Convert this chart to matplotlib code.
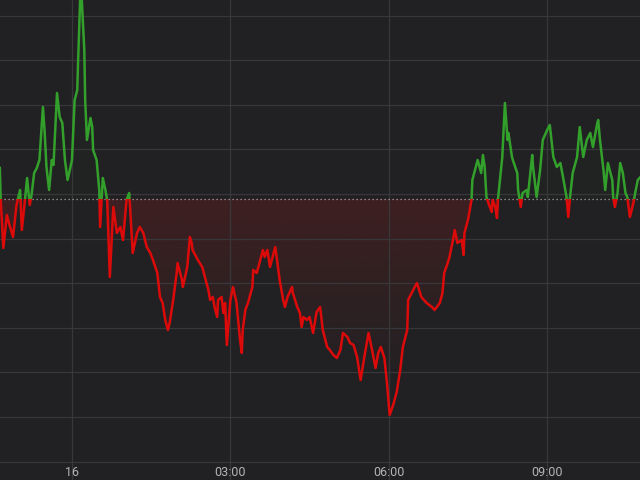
import numpy as np
import matplotlib
matplotlib.use("Agg")
import matplotlib.pyplot as plt
from matplotlib.patches import Rectangle
from matplotlib.path import Path
from matplotlib.transforms import blended_transform_factory

# ---- data: minutes from 00:00 on the 16th, change vs previous close ----
minutes = [-82, -81, -78, -74, -71, -67, -63, -59, -57, -54, -51, -48, -46, -43, -40, -37,
           -33, -31, -29, -26, -23, -21, -17, -14, -11, -8, -5, 0, 3, 6, 7, 10, 14, 15, 17,
           21, 23, 24, 28, 31, 32, 34, 35, 38, 40, 43, 47, 51, 55, 58, 62, 65, 66, 69, 74,
           77, 81, 85, 89, 92, 97, 100, 103, 106, 109, 111, 115, 119, 120, 125, 126, 131,
           134, 136, 137, 143, 148, 151, 155, 157, 160, 162, 165, 166, 170, 172, 174, 176,
           180, 183, 187, 191, 193, 194, 197, 200, 205, 206, 210, 214, 217, 219, 222, 225,
           228, 231, 233, 236, 240, 242, 245, 250, 251, 256, 259, 261, 263, 267, 270, 274,
           278, 282, 285, 290, 293, 297, 301, 305, 308, 313, 316, 320, 324, 328, 333, 337,
           341, 345, 348, 351, 355, 358, 361, 365, 369, 373, 376, 381, 382, 386, 392, 397,
           403, 409, 412, 418, 421, 423, 427, 429, 433, 435, 438, 443, 445, 446, 450, 452,
           454, 455, 461, 465, 467, 469, 471, 474, 477, 478, 481, 483, 484, 489, 492, 495,
           496, 500, 501, 506, 507, 510, 512, 517, 518, 523, 524, 528, 532, 535, 540, 543,
           547, 551, 555, 558, 562, 564, 566, 569, 574, 577, 581, 585, 589, 592, 597, 598,
           600, 604, 606, 609, 614, 615, 617, 620, 623, 626, 629, 631, 634, 638, 640, 643, 646]
change = [31, -1, -49, -16, -26, -38, -6, 9, -31, -6, 21, -6, 4, 26, 31, 39,
          92, 66, 32, 9, 39, 34, 106, 82, 76, 39, 19, 39, 99, 109, 139, 219, 149, 99, 59,
          81, 72, 49, 39, 9, -28, 4, 21, 9, -1, -78, -8, -34, -28, -41, -1, 6, -8, -54, -34,
          -28, -34, -48, -54, -61, -74, -98, -104, -121, -131, -124, -101, -74, -64, -81, -88, -68,
          -38, -44, -51, -61, -68, -78, -91, -101, -98, -108, -118, -101, -98, -114, -104, -146,
          -101, -88, -104, -141, -154, -131, -111, -104, -88, -71, -74, -61, -51, -58, -51, -68,
          -58, -48, -61, -81, -101, -108, -98, -88, -94, -108, -114, -128, -118, -121, -118, -134,
          -113, -108, -131, -148, -151, -156, -159, -151, -134, -138, -144, -146, -158, -181, -154, -134,
          -151, -169, -154, -148, -159, -184, -216, -206, -193, -171, -148, -131, -101, -94, -84, -98,
          -104, -108, -111, -104, -94, -74, -64, -58, -41, -31, -44, -41, -56, -34, -21, -11,
          -1, 19, 39, 26, 44, 32, 2, -6, -13, -1, -8, -19, -1, 42, 96, 59,
          66, 42, 39, 26, 9, -8, 6, 9, 2, 44, 32, 2, 29, 59, 69, 74,
          42, 32, 36, 22, 2, -18, 2, 26, 42, 72, 42, 59, 66, 52, 76, 79,
          59, 29, 9, 36, 19, 2, -8, 6, 36, 26, 6, 2, -18, -4, 6, 19, 22]
tick_minutes = [0, 180, 360, 540]
tick_labels = ["16", "03:00", "06:00", "09:00"]

t = np.array(minutes, dtype=float)
v = np.array(change, dtype=float)

BG = "#212123"
GRID = "#38383a"
GREEN = "#33a02c"
RED = "#dd0a0a"
XMIN, XMAX = -81.8, 645.5
YMIN, YMAX = -281, 199

fig = plt.figure(figsize=(6.4, 4.8), dpi=100, facecolor=BG)
ax = fig.add_axes([0, 0, 1, 1], facecolor=BG)
ax.set_xlim(XMIN, XMAX)
ax.set_ylim(YMIN, YMAX)
for s in ax.spines.values():
    s.set_visible(False)

# grid
ax.set_xticks(tick_minutes)
ax.set_yticks(np.arange(-6, 5) * 44.6 + 5)
ax.grid(True, color=GRID, lw=0.9, zorder=0)
ax.tick_params(length=0, labelbottom=False, labelleft=False)

# gradient fills
def gradient_fill(mask, color, a_top, a_bottom, y0, y1):
    coll = ax.fill_between(t, v, 0, where=mask, interpolate=True,
                           facecolor="none", edgecolor="none")
    paths = coll.get_paths()
    if not paths:
        return
    path = Path.make_compound_path(*paths)
    rgb = matplotlib.colors.to_rgb(color)
    n = 256
    img = np.zeros((n, 1, 4))
    img[:, 0, :3] = rgb
    img[:, 0, 3] = np.linspace(0, 1, n) ** 1.3 * (a_top - a_bottom) + a_bottom
    im = ax.imshow(img, extent=[XMIN, XMAX, y0, y1], origin="lower",
                   aspect="auto", zorder=1, interpolation="bicubic")
    im.set_clip_path(path, transform=ax.transData)

gradient_fill(v <= 0, "#b81a1a", 0.20, 0.0, -215, 0)
gradient_fill(v >= 0, "#2f8a2a", 0.08, 0.02, 0, 220)

# baseline (previous close)
ax.axhline(0, color="#a8a8a8", lw=0.9, ls=(0, (1, 2.2)), zorder=3)

# line coloured by side of baseline
above = Rectangle((XMIN, 0), XMAX - XMIN, 1000, transform=ax.transData)
below = Rectangle((XMIN, -1000), XMAX - XMIN, 1000, transform=ax.transData)
lg, = ax.plot(t, v, color=GREEN, lw=1.8, zorder=4, solid_joinstyle="round")
lg.set_clip_path(above)
lr, = ax.plot(t, v, color=RED, lw=1.8, zorder=4, solid_joinstyle="round")
lr.set_clip_path(below)

# time labels
trans = blended_transform_factory(ax.transData, ax.transAxes)
for m, lab in zip(tick_minutes, tick_labels):
    ax.text(m, 0.008, lab, transform=trans, ha="center", va="baseline",
            color="#b4b4b4", fontsize=9, family=["Roboto", "DejaVu Sans"], zorder=5)

fig.savefig("out.png", dpi=100, facecolor=BG)
